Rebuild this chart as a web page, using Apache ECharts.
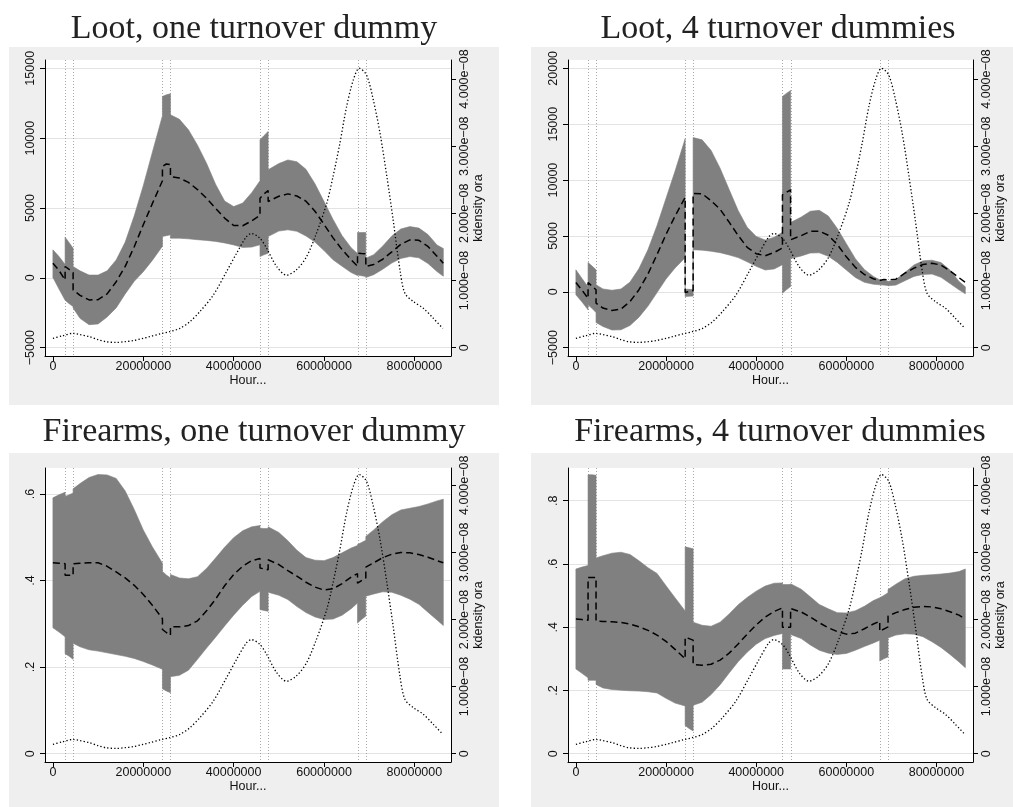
<!DOCTYPE html>
<html>
<head>
<meta charset="utf-8">
<script src="https://cdn.jsdelivr.net/npm/echarts@6/dist/echarts.min.js"></script>
<style>
  html, body { margin: 0; padding: 0; background: #fff; }
  #chart { width: 1013px; height: 807px; }
</style>
</head>
<body>
<div id="chart"></div>
<script>
// x grid shared by all four estimate curves (duplicates = jump at a turnover line)
const hourX = [
  0, 1.35e6, 2.7e6,
  2.7e6, 3.6e6, 4.47e6,
  4.47e6, 6e6, 8e6, 10e6, 12e6, 14e6, 16e6, 18e6, 20e6, 22e6, 24.24e6,
  24.24e6, 25.1e6, 26.01e6,
  26.01e6, 28e6, 30e6, 32e6, 34e6, 36e6, 38e6, 40e6, 42e6, 44e6, 45.83e6,
  45.83e6, 46.7e6, 47.63e6,
  47.63e6, 50e6, 52e6, 54e6, 56e6, 58e6, 60e6, 62e6, 64e6, 66e6, 67.41e6,
  67.41e6, 68.3e6, 69.25e6,
  69.25e6, 71e6, 73e6, 75e6, 77e6, 79e6, 81e6, 83e6, 85e6, 86.4e6
];
const turnoverLines = [2.7e6, 4.47e6, 24.24e6, 26.01e6, 45.83e6, 47.63e6, 67.41e6, 69.25e6];
const xTicks = [0, 20000000, 40000000, 60000000, 80000000];

// Loot, one turnover dummy
const lootOneUpper = [
  2005, 1530, 960,
  2910, 2520, 2124,
  812, 500, 200, 200, 500, 1280, 2560, 4440, 6600, 8980, 11600,
  12985, 13100, 13176,
  11672, 11350, 10600, 9500, 8200, 6700, 5500, 5100, 5350, 6100, 6950,
  9882, 10180, 10479,
  7734, 8180, 8440, 8310, 7770, 6730, 5470, 4180, 3020, 2160, 1740,
  3246, 3246, 3246,
  1408, 1660, 2280, 3000, 3500, 3670, 3560, 3100, 2350, 2100
];
const lootOneLower = [
  24, -800, -1600,
  -1600, -1850, -2053,
  -2150, -2900, -3350, -3300, -2800, -2150, -1150, -250, 440, 1250, 2270,
  2960, 3020, 3079,
  2840, 2840, 2790, 2730, 2680, 2610, 2500, 2360, 2180, 2200, 2363,
  1528, 1650, 1766,
  2960, 3350, 3437, 3330, 3000, 2560, 1950, 1290, 830, 380, 160,
  200, 150, 100,
  24, 230, 620, 1060, 1390, 1525, 1430, 1030, 450, 120
];
const lootOneEst = [
  1050, 530, -150,
  812, 600, 382,
  -859, -1250, -1580, -1560, -1150, -280, 820, 2230, 3800, 5310, 6950,
  7973, 8150, 8100,
  7257, 7140, 6830, 6320, 5700, 4980, 4280, 3750, 3730, 4080, 4470,
  5705, 6000, 6254,
  5466, 5840, 6010, 5860, 5490, 4770, 3830, 2860, 2020, 1290, 830,
  1766, 1740, 1719,
  812, 960, 1330, 1860, 2400, 2715, 2690, 2250, 1550, 1050
];

// Loot, 4 turnover dummies
const lootFourUpper = [
  1969, 1200, 450,
  2625, 2300, 1969,
  626, 260, 140, 250, 870, 2080, 3780, 5930, 8370, 10800, 13700,
  239, 220, 200,
  13800, 13600, 12650, 11050, 9150, 7270, 5780, 4960, 4630, 4880, 5330,
  17480, 17750, 18017,
  6205, 6690, 7210, 7290, 6780, 5670, 4310, 2970, 2000, 1380, 1074,
  1074, 1010, 950,
  920, 1100, 1730, 2400, 2770, 2830, 2620, 1950, 930, 450
];
const lootFourLower = [
  -268, -900, -1611,
  -1163, -1500, -1850,
  -2744, -3100, -3420, -3400, -3010, -2270, -1280, -70, 1150, 2130, 3050,
  -418, -400, -380,
  3759, 3730, 3630, 3500, 3300, 3060, 2680, 2280, 1950, 2050, 2430,
  -119, 180, 477,
  2983, 3210, 3470, 3490, 3180, 2630, 1950, 1280, 850, 680, 626,
  626, 600, 560,
  537, 600, 1000, 1380, 1560, 1590, 1300, 740, 180, -180
];
const lootFourEst = [
  835, 150, -580,
  835, 500, 179,
  -1014, -1450, -1670, -1540, -870, 190, 1610, 3330, 5150, 6770, 8450,
  -60, 30, 119,
  8800, 8780, 8150, 7380, 6230, 5040, 3980, 3410, 3230, 3520, 3930,
  8681, 8900, 9128,
  4654, 5030, 5410, 5430, 5060, 4230, 3130, 2190, 1550, 1170, 1014,
  1134, 1100, 1070,
  1014, 1134, 1670, 2120, 2440, 2560, 2390, 1880, 1260, 835
];

// Firearms, one turnover dummy
const fireOneUpper = [
  0.591, 0.598, 0.604,
  0.594, 0.598, 0.602,
  0.612, 0.624, 0.638, 0.645, 0.644, 0.636, 0.607, 0.564, 0.517, 0.478, 0.440,
  0.421, 0.413, 0.406,
  0.414, 0.406, 0.404, 0.409, 0.428, 0.452, 0.477, 0.499, 0.515, 0.524, 0.527,
  0.521, 0.520, 0.520,
  0.524, 0.511, 0.492, 0.470, 0.453, 0.447, 0.446, 0.453, 0.464, 0.475, 0.481,
  0.483, 0.488, 0.493,
  0.502, 0.517, 0.536, 0.552, 0.563, 0.567, 0.571, 0.577, 0.584, 0.588
];
const fireOneLower = [
  0.291, 0.281, 0.270,
  0.231, 0.225, 0.218,
  0.255, 0.247, 0.240, 0.237, 0.233, 0.229, 0.225, 0.220, 0.213, 0.205, 0.195,
  0.150, 0.145, 0.141,
  0.178, 0.181, 0.193, 0.218, 0.244, 0.269, 0.295, 0.320, 0.343, 0.363, 0.375,
  0.333, 0.331, 0.329,
  0.373, 0.366, 0.356, 0.340, 0.326, 0.316, 0.310, 0.311, 0.320, 0.335, 0.348,
  0.302, 0.310, 0.318,
  0.364, 0.369, 0.374, 0.373, 0.366, 0.357, 0.345, 0.327, 0.309, 0.296
];
const fireOneEst = [
  0.441, 0.440, 0.439,
  0.412, 0.412, 0.412,
  0.439, 0.440, 0.441, 0.441, 0.433, 0.420, 0.406, 0.389, 0.368, 0.343, 0.312,
  0.287, 0.280, 0.274,
  0.293, 0.293, 0.296, 0.307, 0.330, 0.357, 0.388, 0.414, 0.433, 0.446, 0.451,
  0.429, 0.427, 0.425,
  0.448, 0.437, 0.423, 0.410, 0.396, 0.385, 0.378, 0.381, 0.393, 0.408, 0.416,
  0.394, 0.400, 0.406,
  0.431, 0.441, 0.453, 0.461, 0.465, 0.464, 0.460, 0.454, 0.446, 0.441
];

// Firearms, 4 turnover dummies
const fireFourUpper = [
  0.584, 0.590, 0.595,
  0.882, 0.882, 0.880,
  0.619, 0.626, 0.634, 0.637, 0.630, 0.610, 0.588, 0.570, 0.531, 0.493, 0.451,
  0.654, 0.651, 0.648,
  0.416, 0.406, 0.403, 0.416, 0.442, 0.471, 0.494, 0.514, 0.530, 0.539, 0.540,
  0.535, 0.535, 0.535,
  0.537, 0.520, 0.496, 0.472, 0.458, 0.446, 0.445, 0.452, 0.466, 0.484, 0.493,
  0.493, 0.500, 0.509,
  0.519, 0.536, 0.553, 0.561, 0.564, 0.566, 0.568, 0.571, 0.576, 0.584
];
const fireFourLower = [
  0.268, 0.254, 0.240,
  0.232, 0.232, 0.232,
  0.219, 0.208, 0.203, 0.201, 0.199, 0.198, 0.196, 0.192, 0.175, 0.160, 0.151,
  0.089, 0.080, 0.072,
  0.153, 0.163, 0.187, 0.218, 0.255, 0.291, 0.321, 0.346, 0.364, 0.374, 0.380,
  0.268, 0.268, 0.268,
  0.377, 0.364, 0.344, 0.327, 0.318, 0.314, 0.317, 0.327, 0.339, 0.350, 0.359,
  0.293, 0.300, 0.306,
  0.366, 0.375, 0.379, 0.378, 0.370, 0.354, 0.336, 0.314, 0.290, 0.272
];
const fireFourEst = [
  0.426, 0.424, 0.422,
  0.557, 0.557, 0.557,
  0.419, 0.418, 0.417, 0.415, 0.410, 0.401, 0.390, 0.375, 0.355, 0.330, 0.300,
  0.368, 0.364, 0.359,
  0.282, 0.280, 0.283, 0.296, 0.318, 0.347, 0.378, 0.407, 0.432, 0.450, 0.461,
  0.400, 0.400, 0.400,
  0.459, 0.448, 0.432, 0.414, 0.398, 0.386, 0.378, 0.381, 0.395, 0.410, 0.419,
  0.387, 0.394, 0.401,
  0.435, 0.446, 0.456, 0.463, 0.466, 0.464, 0.458, 0.449, 0.438, 0.426
];

// kdensity of ora (right axis), same in every panel
const kdenX = [
  0, 2e6, 4.4e6, 6e6, 8.1e6, 10e6, 11.8e6, 14e6, 16e6, 17.7e6, 20e6, 21.4e6, 24e6,
  25.8e6, 28.1e6, 30.3e6, 32.5e6, 35.5e6, 38.4e6, 40.6e6, 42.8e6, 43.9e6, 45.8e6,
  47.3e6, 49.5e6, 51.7e6, 53.9e6, 56.1e6, 58.3e6, 60.6e6, 62e6, 63.5e6, 65e6,
  66.5e6, 67.8e6, 69.4e6, 70.9e6, 72.4e6, 73.9e6, 75.3e6, 76.8e6, 77.9e6, 79.8e6,
  82e6, 84.2e6, 86.3e6
];
const kdenY = [
  1.39e-9, 1.75e-9, 2.13e-9, 1.95e-9, 1.64e-9, 1.2e-9, 8.9e-10, 7.9e-10, 9e-10, 1.04e-9, 1.4e-9, 1.64e-9, 2.1e-9,
  2.38e-9, 2.88e-9, 3.87e-9, 5.36e-9, 7.84e-9, 1.13e-8, 1.40e-8, 1.65e-8, 1.70e-8, 1.63e-8,
  1.48e-8, 1.21e-8, 1.08e-8, 1.16e-8, 1.35e-8, 1.70e-8, 2.15e-8, 2.55e-8, 3.04e-8, 3.59e-8,
  3.99e-8, 4.16e-8, 4.06e-8, 3.69e-8, 3.19e-8, 2.55e-8, 1.90e-8, 1.16e-8, 8.1e-9, 6.85e-9,
  5.86e-9, 4.37e-9, 2.88e-9
];
const kdenTicks = [0, 1e-8, 2e-8, 3e-8, 4e-8];

const lootOneTicks = [-5000, 0, 5000, 10000, 15000];
const lootFourTicks = [-5000, 0, 5000, 10000, 15000, 20000];
const fireOneTicks = [0, 0.2, 0.4, 0.6];
const fireFourTicks = [0, 0.2, 0.4, 0.6, 0.8];

const panels = [
  { title: 'Loot, one turnover dummy', upper: lootOneUpper, lower: lootOneLower, est: lootOneEst,
    ticks: lootOneTicks, yMin: -5594, yMax: 15594, kMax: 4.283e-8,
    bg: [9, 47, 490, 358], grid: { left: 45, top: 60, width: 406, height: 296 }, tx: 249, ty: 7 },
  { title: 'Loot, 4 turnover dummies', upper: lootFourUpper, lower: lootFourLower, est: lootFourEst,
    ticks: lootFourTicks, yMin: -5743, yMax: 20743, kMax: 4.283e-8,
    bg: [531, 47, 482, 358], grid: { left: 568, top: 60, width: 405, height: 296 }, tx: 773, ty: 7 },
  { title: 'Firearms, one turnover dummy', upper: fireOneUpper, lower: fireOneLower, est: fireOneEst,
    ticks: fireOneTicks, yMin: -0.01915, yMax: 0.66, kMax: 4.2575e-8,
    bg: [9, 453, 490, 354], grid: { left: 45, top: 468, width: 406, height: 294 }, tx: 249, ty: 410 },
  { title: 'Firearms, 4 turnover dummies', upper: fireFourUpper, lower: fireFourLower, est: fireFourEst,
    ticks: fireFourTicks, yMin: -0.02621, yMax: 0.9033, kMax: 4.2575e-8,
    bg: [531, 453, 482, 354], grid: { left: 568, top: 468, width: 405, height: 294 }, tx: 775, ty: 410 }
];

const sans = 'Liberation Sans, Arial, sans-serif';
const txt = { fontFamily: sans, fontSize: 12.5, color: '#111' };
const zip = (xs, ys) => xs.map((x, i) => [x, ys[i]]);
const fmtLeft = v => {
  if (v === 0) return '0';
  if (Math.abs(v) < 1) return String(v).replace(/^0/, '');
  return v < 0 ? '\u2212' + Math.abs(v) : String(v);
};
const fmtDen = v => v === 0 ? '0' : (v * 1e8).toFixed(3) + 'e\u221208';

// turnover xlines first, then the confidence band polygon on top of them
function renderBand(params, api) {
  if (params.dataIndexInside !== 0) return null;
  const cs = params.coordSys;
  const n = params.dataInsideLength;
  const top = [], bot = [];
  for (let k = 0; k < n; k++) {
    const x = api.value(0, k);
    top.push(api.coord([x, api.value(2, k)]));
    bot.push(api.coord([x, api.value(1, k)]));
  }
  const lines = turnoverLines.map(v => {
    const x = Math.round(api.coord([v, api.value(1, 0)])[0]) + 0.5;
    return {
      type: 'line', z2: 1,
      shape: { x1: x, y1: cs.y, x2: x, y2: cs.y + cs.height },
      style: { stroke: '#a8a8a8', lineWidth: 1, lineDash: [1, 2] }
    };
  });
  return {
    type: 'group',
    children: lines.concat([{
      type: 'polygon', z2: 10,
      shape: { points: top.concat(bot.reverse()) },
      style: { fill: '#808080', stroke: '#808080', lineWidth: 0.6, lineJoin: 'miter' }
    }])
  };
}

const option = {
  animation: false,
  backgroundColor: '#fff',
  graphic: panels.map(p => ({
    type: 'rect', silent: true, z: -10,
    shape: { x: p.bg[0], y: p.bg[1], width: p.bg[2], height: p.bg[3] },
    style: { fill: '#efefef' }
  })),
  title: panels.map(p => ({
    text: p.title, left: p.tx, top: p.ty, textAlign: 'center',
    textStyle: { fontFamily: 'Liberation Serif, serif', fontSize: 34, fontWeight: 'normal', color: '#222' }
  })),
  grid: panels.map(p => Object.assign({ show: true, backgroundColor: '#fff', borderWidth: 0 }, p.grid)),
  xAxis: panels.map((p, i) => ({
    type: 'value', gridIndex: i, min: -1.75e6, max: 88.1e6,
    name: 'Hour...', nameLocation: 'middle', nameGap: 16, nameTextStyle: txt,
    axisLine: { show: true, onZero: false, lineStyle: { color: '#000', width: 1 } },
    axisTick: { show: true, length: 5, customValues: xTicks, lineStyle: { color: '#000' } },
    axisLabel: Object.assign({ customValues: xTicks, margin: 4, formatter: v => String(v) }, txt),
    splitLine: { show: false }
  })),
  yAxis: panels.flatMap((p, i) => [
    {
      type: 'value', gridIndex: i, position: 'left', min: p.yMin, max: p.yMax,
      axisLine: { show: true, onZero: false, lineStyle: { color: '#000', width: 1 } },
      axisTick: { show: true, length: 5, customValues: p.ticks, lineStyle: { color: '#000' } },
      axisLabel: Object.assign({ customValues: p.ticks, rotate: 90, margin: 8, formatter: fmtLeft }, txt),
      splitLine: { show: true, lineStyle: { color: '#e3e3e3', width: 1 } }
    },
    {
      type: 'value', gridIndex: i, position: 'right', min: -1.2356e-9, max: p.kMax,
      name: 'kdensity ora', nameLocation: 'middle', nameRotate: 90, nameGap: 21, nameTextStyle: txt,
      axisLine: { show: true, onZero: false, lineStyle: { color: '#000', width: 1 } },
      axisTick: { show: true, length: 5, customValues: kdenTicks, lineStyle: { color: '#000' } },
      axisLabel: Object.assign({ customValues: kdenTicks, rotate: 90, margin: 7, formatter: fmtDen }, txt),
      splitLine: { show: false }
    }
  ]),
  series: panels.flatMap((p, i) => [
    {
      type: 'custom', xAxisIndex: i, yAxisIndex: 2 * i, z: 3, silent: true,
      data: hourX.map((x, k) => [x, p.lower[k], p.upper[k]]),
      encode: { x: 0, y: [1, 2] },
      renderItem: renderBand
    },
    {
      type: 'line', xAxisIndex: i, yAxisIndex: 2 * i, data: zip(hourX, p.est), symbol: 'none', z: 5,
      lineStyle: { color: '#000', width: 1.5, type: [7, 4] }
    },
    {
      type: 'line', xAxisIndex: i, yAxisIndex: 2 * i + 1, data: zip(kdenX, kdenY), symbol: 'none', z: 5,
      smooth: 0.3,
      lineStyle: { color: '#000', width: 1.3, type: [1.3, 2.2] }
    }
  ])
};

const chart = echarts.init(document.getElementById('chart'), null, { renderer: 'canvas' });
chart.setOption(option);
</script>
</body>
</html>
